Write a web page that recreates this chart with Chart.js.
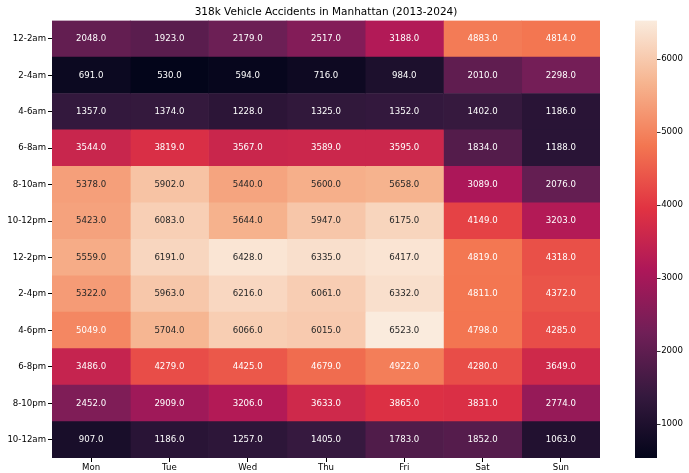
<!DOCTYPE html>
<html>
<head>
<meta charset="utf-8">
<script src="https://cdn.jsdelivr.net/npm/chart.js@4/dist/chart.umd.min.js"></script>
<style>
  html, body { margin: 0; padding: 0; background: #fff; }
  #wrap { width: 689px; height: 473px; }
</style>
</head>
<body>
<div id="wrap"><canvas id="heat" width="689" height="473"></canvas></div>
<script>
// time slots (rows) and weekdays (columns)
const slots = ['12-2am', '2-4am', '4-6am', '6-8am', '8-10am', '10-12pm', '12-2pm', '2-4pm', '4-6pm', '6-8pm', '8-10pm', '10-12am'];
const days = ['Mon', 'Tue', 'Wed', 'Thu', 'Fri', 'Sat', 'Sun'];

// accident counts per day, one value per slot
const mon = [2048, 691, 1357, 3544, 5378, 5423, 5559, 5322, 5049, 3486, 2452, 907];
const tue = [1923, 530, 1374, 3819, 5902, 6083, 6191, 5963, 5704, 4279, 2909, 1186];
const wed = [2179, 594, 1228, 3567, 5440, 5644, 6428, 6216, 6066, 4425, 3206, 1257];
const thu = [2517, 716, 1325, 3589, 5600, 5947, 6335, 6061, 6015, 4679, 3633, 1405];
const fri = [3188, 984, 1352, 3595, 5658, 6175, 6417, 6332, 6523, 4922, 3865, 1783];
const sat = [4883, 2010, 1402, 1834, 3089, 4149, 4819, 4811, 4798, 4280, 3831, 1852];
const sun = [4814, 2298, 1186, 1188, 2076, 3203, 4318, 4372, 4285, 3649, 2774, 1063];

const colorbarTicks = [1000, 2000, 3000, 4000, 5000, 6000];

const counts = [mon, tue, wed, thu, fri, sat, sun];
const vmin = Math.min(...counts.flat());
const vmax = Math.max(...counts.flat());

// rough "rocket" colormap
const rocket = [
  [0.000, [3, 5, 26]],
  [0.143, [53, 25, 62]],
  [0.286, [112, 31, 87]],
  [0.429, [173, 23, 89]],
  [0.571, [225, 51, 66]],
  [0.714, [243, 118, 81]],
  [0.857, [246, 180, 143]],
  [1.000, [250, 235, 221]]
];

function rgbAt(t) {
  t = Math.max(0, Math.min(1, t));
  for (let i = 1; i < rocket.length; i++) {
    const [t1, c1] = rocket[i];
    const [t0, c0] = rocket[i - 1];
    if (t <= t1) {
      const f = (t - t0) / (t1 - t0);
      return c0.map((c, k) => Math.round(c + (c1[k] - c) * f));
    }
  }
  return rocket[rocket.length - 1][1];
}

function colorFor(v) {
  const c = rgbAt((v - vmin) / (vmax - vmin));
  return `rgb(${c[0]},${c[1]},${c[2]})`;
}

function textColorFor(v) {
  const c = rgbAt((v - vmin) / (vmax - vmin)).map(x => {
    x /= 255;
    return x <= 0.03928 ? x / 12.92 : Math.pow((x + 0.055) / 1.055, 2.4);
  });
  const lum = 0.2126 * c[0] + 0.7152 * c[1] + 0.0722 * c[2];
  return lum > 0.408 ? '#262626' : '#ffffff';
}

const FONT = "'DejaVu Sans', sans-serif";

// cell labels
const annotate = {
  id: 'annotate',
  afterDatasetsDraw(chart) {
    const ctx = chart.ctx;
    ctx.save();
    ctx.font = `8.6px ${FONT}`;
    ctx.textAlign = 'center';
    ctx.textBaseline = 'middle';
    chart.data.datasets.forEach((ds, d) => {
      chart.getDatasetMeta(d).data.forEach((el, i) => {
        const v = counts[d][i];
        const p = el.getCenterPoint();
        ctx.fillStyle = textColorFor(v);
        ctx.fillText(v.toFixed(1), p.x, p.y);
      });
    });
    ctx.restore();
  }
};

// colour bar drawn along the cb scale
const colorbar = {
  id: 'colorbar',
  afterDraw(chart) {
    const s = chart.scales.cb;
    const ctx = chart.ctx;
    const x0 = chart.chartArea.right + 35;
    const w = 22;
    const top = s.getPixelForValue(vmax);
    const bottom = s.getPixelForValue(vmin);
    const g = ctx.createLinearGradient(0, bottom, 0, top);
    rocket.forEach(([t, c]) => g.addColorStop(t, `rgb(${c[0]},${c[1]},${c[2]})`));
    ctx.save();
    ctx.fillStyle = g;
    ctx.fillRect(x0, top, w, bottom - top);
    ctx.strokeStyle = '#000';
    ctx.lineWidth = 0.8;
    colorbarTicks.forEach(v => {
      const y = Math.round(s.getPixelForValue(v)) + 0.5;
      ctx.beginPath();
      ctx.moveTo(x0 + w, y);
      ctx.lineTo(x0 + w + 3.5, y);
      ctx.stroke();
    });
    ctx.restore();
  }
};

new Chart(document.getElementById('heat'), {
  type: 'bar',
  data: {
    labels: slots,
    datasets: days.map((day, d) => ({
      label: day,
      data: slots.map(() => [d, d + 1]),
      backgroundColor: c => colorFor(counts[d][c.dataIndex]),
      borderWidth: 0,
      barPercentage: 1,
      categoryPercentage: 1,
      grouped: false
    }))
  },
  options: {
    indexAxis: 'y',
    responsive: false,
    animation: false,
    layout: { padding: { right: 6 } },
    plugins: {
      legend: { display: false },
      tooltip: { enabled: false },
      title: {
        display: true,
        fullSize: false,
        text: '318k Vehicle Accidents in Manhattan (2013-2024)',
        color: '#000',
        font: { family: FONT, size: 10.5, weight: 'normal' },
        padding: { top: 6, bottom: 2 }
      }
    },
    scales: {
      x: {
        type: 'linear',
        min: 0,
        max: days.length,
        afterBuildTicks: s => { s.ticks = days.map((_, i) => ({ value: i + 0.5 })); },
        afterFit: s => { s.height = 15; },
        border: { display: false },
        grid: { drawOnChartArea: false, tickLength: 4, color: '#000' },
        ticks: {
          autoSkip: false,
          maxRotation: 0,
          padding: 1,
          color: '#000',
          font: { family: FONT, size: 8.6 },
          callback: v => days[Math.floor(v)]
        }
      },
      y: {
        type: 'category',
        afterFit: s => { s.width = 52; },
        border: { display: false },
        grid: { drawOnChartArea: false, offset: false, tickLength: 4, color: '#000' },
        ticks: {
          autoSkip: false,
          padding: 2,
          color: '#000',
          font: { family: FONT, size: 8.6 }
        }
      },
      cb: {
        type: 'linear',
        axis: 'y',
        position: 'right',
        offset: false,
        min: vmin,
        max: vmax,
        afterBuildTicks: s => { s.ticks = colorbarTicks.map(v => ({ value: v })); },
        afterFit: s => { s.width = 83; },
        border: { display: false },
        grid: { display: false, drawTicks: false, tickLength: 0 },
        ticks: {
          padding: 0,
          crossAlign: 'far',
          color: '#000',
          font: { family: FONT, size: 8.6 },
          callback: v => String(v)
        }
      }
    }
  },
  plugins: [annotate, colorbar]
});
</script>
</body>
</html>
